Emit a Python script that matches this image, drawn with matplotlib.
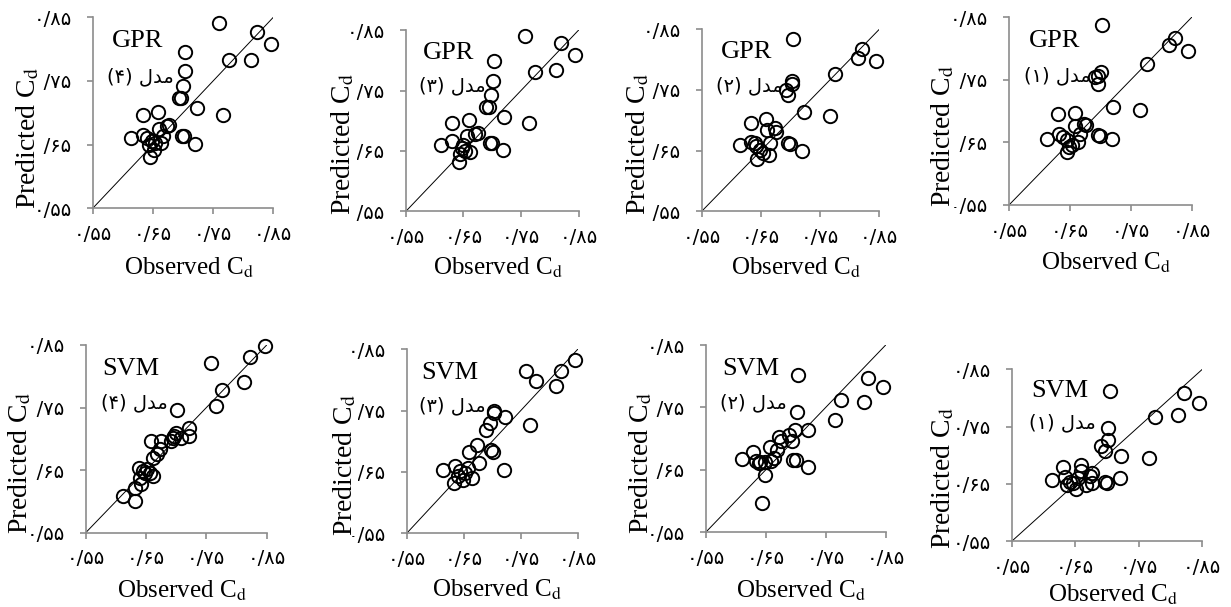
import matplotlib
matplotlib.use('Agg')
import matplotlib.pyplot as plt

plt.rcParams['mathtext.fontset'] = 'stix'

# ---------------- data ----------------
tick_values = [0.55, 0.65, 0.75, 0.85]
tick_labels = ['۰/۵۵', '۰/۶۵', '۰/۷۵', '۰/۸۵']
axis_limits = [0.55, 0.85]

# GPR, model 4
gpr4_obs = [0.759, 0.823, 0.846, 0.777, 0.813, 0.704, 0.703, 0.700, 0.694, 0.697, 0.723, 0.766, 0.633, 0.659, 0.676,
            0.673, 0.660, 0.698, 0.701, 0.720, 0.614, 0.633, 0.640, 0.648, 0.654, 0.664, 0.645, 0.651, 0.643, 0.666]
gpr4_pred = [0.841, 0.827, 0.808, 0.783, 0.783, 0.796, 0.766, 0.742, 0.724, 0.723, 0.708, 0.697, 0.697, 0.702, 0.681,
             0.679, 0.675, 0.664, 0.663, 0.651, 0.660, 0.665, 0.660, 0.655, 0.652, 0.652, 0.631, 0.642, 0.649, 0.663]
# GPR, model 3
gpr3_obs = [0.757, 0.819, 0.843, 0.774, 0.811, 0.703, 0.702, 0.698, 0.690, 0.694, 0.720, 0.764, 0.631, 0.659, 0.675,
            0.670, 0.657, 0.696, 0.699, 0.719, 0.612, 0.631, 0.642, 0.648, 0.653, 0.662, 0.645, 0.650]
gpr3_pred = [0.840, 0.828, 0.809, 0.781, 0.784, 0.798, 0.766, 0.743, 0.723, 0.723, 0.707, 0.696, 0.696, 0.702, 0.680,
             0.678, 0.675, 0.664, 0.663, 0.651, 0.660, 0.667, 0.631, 0.655, 0.650, 0.648, 0.645, 0.660]
# GPR, model 2
gpr2_obs = [0.704, 0.820, 0.814, 0.844, 0.775, 0.703, 0.702, 0.692, 0.696, 0.722, 0.766, 0.633, 0.658, 0.674, 0.676,
            0.661, 0.696, 0.699, 0.720, 0.615, 0.633, 0.642, 0.648, 0.644, 0.664, 0.665, 0.653, 0.640]
gpr2_pred = [0.834, 0.817, 0.803, 0.798, 0.777, 0.764, 0.760, 0.750, 0.742, 0.714, 0.707, 0.695, 0.702, 0.687, 0.680,
             0.684, 0.662, 0.661, 0.650, 0.659, 0.665, 0.657, 0.651, 0.637, 0.643, 0.663, 0.646, 0.662]
# GPR, model 1
gpr1_obs = [0.703, 0.822, 0.812, 0.844, 0.776, 0.701, 0.696, 0.692, 0.696, 0.721, 0.765, 0.631, 0.658, 0.673, 0.676,
            0.658, 0.696, 0.699, 0.719, 0.613, 0.632, 0.639, 0.645, 0.645, 0.664, 0.654, 0.648, 0.666]
gpr1_pred = [0.838, 0.817, 0.806, 0.796, 0.775, 0.762, 0.756, 0.754, 0.743, 0.707, 0.702, 0.696, 0.697, 0.680, 0.678,
             0.677, 0.662, 0.661, 0.655, 0.656, 0.664, 0.659, 0.654, 0.634, 0.651, 0.646, 0.643, 0.663]
# SVM, model 4
svm4_obs = [0.847, 0.822, 0.758, 0.812, 0.776, 0.766, 0.701, 0.722, 0.721, 0.700, 0.697, 0.695, 0.692, 0.659, 0.675,
            0.673, 0.668, 0.661, 0.639, 0.645, 0.651, 0.656, 0.662, 0.640, 0.642, 0.631, 0.612, 0.631, 0.648, 0.708]
svm4_pred = [0.848, 0.831, 0.822, 0.791, 0.778, 0.753, 0.746, 0.718, 0.705, 0.710, 0.705, 0.701, 0.697, 0.696, 0.697,
             0.684, 0.676, 0.670, 0.654, 0.649, 0.652, 0.646, 0.641, 0.638, 0.628, 0.622, 0.609, 0.601, 0.646, 0.702]
# SVM, model 3
svm3_obs = [0.845, 0.820, 0.812, 0.759, 0.776, 0.766, 0.704, 0.703, 0.723, 0.697, 0.690, 0.674, 0.660, 0.698, 0.701,
            0.676, 0.720, 0.614, 0.634, 0.643, 0.652, 0.633, 0.649, 0.665, 0.640, 0.658]
svm3_pred = [0.832, 0.814, 0.790, 0.814, 0.799, 0.727, 0.750, 0.746, 0.739, 0.730, 0.718, 0.694, 0.683, 0.686, 0.683,
             0.665, 0.653, 0.654, 0.659, 0.651, 0.648, 0.632, 0.637, 0.640, 0.643, 0.656]
# SVM, model 2
svm2_obs = [0.703, 0.820, 0.846, 0.775, 0.813, 0.702, 0.766, 0.721, 0.698, 0.689, 0.694, 0.672, 0.676, 0.657, 0.668,
            0.629, 0.611, 0.633, 0.641, 0.649, 0.659, 0.664, 0.696, 0.700, 0.720, 0.648, 0.643, 0.638]
svm2_pred = [0.802, 0.797, 0.782, 0.762, 0.759, 0.742, 0.730, 0.714, 0.714, 0.706, 0.696, 0.702, 0.696, 0.687, 0.682,
             0.678, 0.668, 0.664, 0.663, 0.663, 0.664, 0.669, 0.666, 0.666, 0.655, 0.642, 0.597, 0.661]
# SVM, model 1
svm1_obs = [0.704, 0.821, 0.845, 0.776, 0.812, 0.702, 0.701, 0.691, 0.697, 0.722, 0.766, 0.631, 0.659, 0.676, 0.673,
            0.659, 0.697, 0.700, 0.721, 0.614, 0.634, 0.642, 0.647, 0.651, 0.667, 0.676, 0.637, 0.655]
svm1_pred = [0.813, 0.808, 0.792, 0.767, 0.770, 0.747, 0.727, 0.716, 0.708, 0.698, 0.695, 0.679, 0.683, 0.669, 0.664,
             0.672, 0.654, 0.652, 0.661, 0.657, 0.663, 0.654, 0.651, 0.641, 0.648, 0.652, 0.648, 0.660]

model_names = ['GPR', 'GPR', 'GPR', 'GPR', 'SVM', 'SVM', 'SVM', 'SVM']
# "مدل (n)" written in visual order with Arabic presentation forms
model_tags = ['(۴) ﻝﺪﻣ', '(۳) ﻝﺪﻣ', '(۲) ﻝﺪﻣ', '(۱) ﻝﺪﻣ',
              '(۴) ﻝﺪﻣ', '(۳) ﻝﺪﻣ', '(۲) ﻝﺪﻣ', '(۱) ﻝﺪﻣ']
x_title = 'Observed C$_{\\mathrm{d}}$'
y_title = 'Predicted C$_{\\mathrm{d}}$'

series = [(gpr4_obs, gpr4_pred), (gpr3_obs, gpr3_pred), (gpr2_obs, gpr2_pred), (gpr1_obs, gpr1_pred),
          (svm4_obs, svm4_pred), (svm3_obs, svm3_pred), (svm2_obs, svm2_pred), (svm1_obs, svm1_pred)]

# ---------------- layout ----------------
W, H = 1231, 607
# (left, top, right, bottom) of each plotting area in pixels
boxes_px = [(92.7, 17.3, 273.3, 208.3), (405.7, 30.0, 578.7, 211.5),
            (701.7, 29.3, 879.3, 211.3), (1009.0, 17.3, 1191.7, 205.0),
            (85.7, 345.0, 266.7, 532.7), (406.7, 349.3, 577.7, 533.3),
            (705.7, 345.0, 885.7, 532.3), (1011.7, 369.3, 1202.3, 541.3)]

grey = '#8c8c8c'
fig = plt.figure(figsize=(W / 100, H / 100), dpi=100)

for (obs, pred), name, tag, (l, t, r, b) in zip(series, model_names, model_tags, boxes_px):
    ax = fig.add_axes([l / W, 1 - b / H, (r - l) / W, (b - t) / H])
    ax.plot(axis_limits, axis_limits, color='black', lw=0.7, zorder=2)
    ax.plot(obs, pred, 'o', mfc='none', mec='black', ms=9.6, mew=1.4, clip_on=False, zorder=3)
    ax.set_xlim(axis_limits)
    ax.set_ylim(axis_limits)
    for s in ('top', 'right'):
        ax.spines[s].set_visible(False)
    for s in ('left', 'bottom'):
        ax.spines[s].set_color(grey)
        ax.spines[s].set_linewidth(1.2)
    ax.set_xticks(tick_values, tick_labels)
    ax.set_yticks(tick_values, tick_labels)
    ax.tick_params(axis='both', direction='out', length=4, width=1.2, color=grey, labelsize=14)
    ax.tick_params(axis='x', pad=8)
    ax.tick_params(axis='y', pad=11)
    for lab in ax.get_xticklabels() + ax.get_yticklabels():
        lab.set_family('DejaVu Sans')
    ax.set_xlabel(x_title, fontsize=18, family='Liberation Serif')
    ax.xaxis.label.set_va('center')
    ax.xaxis.set_label_coords(0.53, -0.31)
    ax.set_ylabel(y_title, fontsize=20, family='Liberation Serif',
                  bbox=dict(facecolor='white', edgecolor='none', pad=0))
    ax.yaxis.label.set_va('center')
    ax.yaxis.set_label_coords(-0.36, 0.37)
    ax.text(0.625, 0.812, name, ha='center', va='center', fontsize=19, family='Liberation Serif', zorder=4)
    ax.text(0.63, 0.757, tag, ha='center', va='center', fontsize=14, family='DejaVu Sans', zorder=4)

fig.savefig('out.png', dpi=100, facecolor='white')
